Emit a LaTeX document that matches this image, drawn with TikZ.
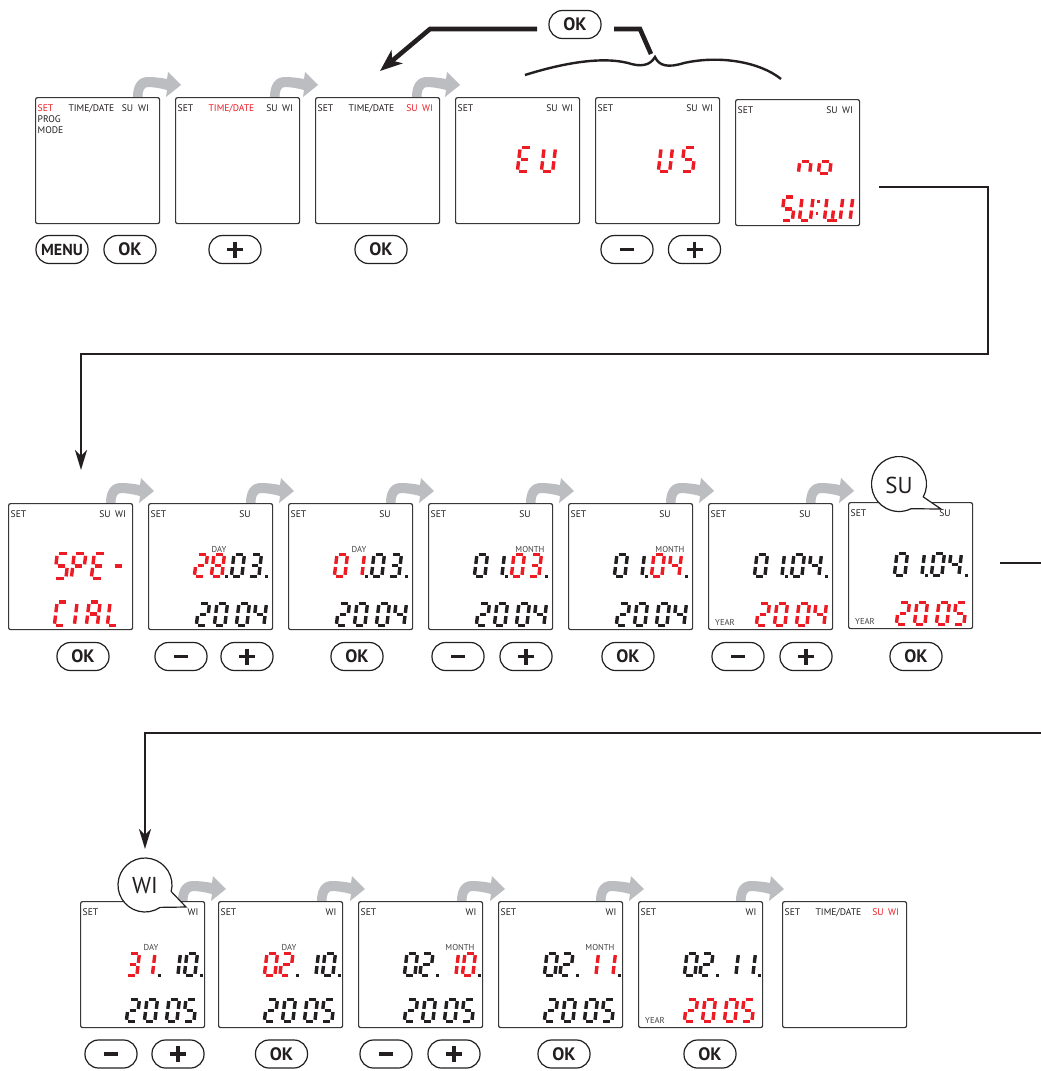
\documentclass[tikz,border=0pt]{standalone}
\usepackage{fontspec}
\setmainfont{PT Sans}
\usetikzlibrary{calc,arrows.meta}
\definecolor{lcdred}{RGB}{237,28,36}
\definecolor{ink}{RGB}{35,31,32}
\definecolor{greyarr}{RGB}{188,189,192}
\definecolor{frame}{RGB}{55,55,55}

% seven-segment geometry (local, y up)
\def\sega{(1.9,22.5) -- (8.6,22.5)}
\def\segb{(10.5,20.6) -- (10.5,12.85)}
\def\segc{(10.5,9.65) -- (10.5,1.9)}
\def\segd{(1.9,0) -- (8.6,0)}
\def\sege{(0,9.65) -- (0,1.9)}
\def\segf{(0,20.6) -- (0,12.85)}
\def\segg{(1.9,11.25) -- (8.6,11.25)}
\def\segm{(5.25,9.65) -- (5.25,1.9)}

\def\Dzero{a,b,c,d,e,f}
\def\Done{b,c}
\def\Dtwo{a,b,g,e,d}
\def\Dthree{a,b,g,c,d}
\def\Dfour{f,g,b,c}
\def\Dfive{a,f,g,c,d}
\def\Deight{a,b,c,d,e,f,g}
\def\SgE{a,f,g,e,d}
\def\SgU{b,c,d,e,f}
\def\SgS{a,f,g,c,d}
\def\SgP{a,b,f,g,e}
\def\SgDash{g}
\def\SgC{a,f,e,d}
\def\SgI{e,f}
\def\SgA{a,b,c,e,f,g}
\def\SgL{f,e,d}
\def\Sgn{c,e,g}
\def\Sgo{c,d,e,g}
\def\SgW{b,c,d,e,f,m}

\newcommand\dgt[5][]{%
  \begin{scope}[shift={(#2,#3)},x=1pt,y=1pt,xslant=0.12,#1,color=#4,line width=3.4pt]
    \foreach \sg in #5 {\expandafter\draw\csname seg\sg\endcsname;}
  \end{scope}}
\newcommand\lcdpt[2]{\fill[ink] (#1,#2+1.6) rectangle ++(3,-3);}

% date lines, row 2 and row 3
\newcommand\tlB[8]{\dgt{46.3}{73.7}{#2}{#1}\dgt{63.3}{73.7}{#4}{#3}\dgt{83.3}{73.7}{#6}{#5}\dgt{100.3}{73.7}{#8}{#7}\lcdpt{77}{73.7}\lcdpt{116.5}{73.7}}
\newcommand\blB[2]{\dgt{48.3}{122.7}{#2}{\Dtwo}\dgt{66.3}{122.7}{#2}{\Dzero}\dgt{88.3}{122.7}{#2}{\Dzero}\dgt{105.3}{122.7}{#2}{#1}}
\newcommand\tlC[8]{\dgt{46.3}{74.7}{#2}{#1}\dgt{61.8}{74.7}{#4}{#3}\dgt{87.3}{74.7}{#6}{#5}\dgt{104.3}{74.7}{#8}{#7}\lcdpt{77.5}{74.7}\lcdpt{120}{74.7}}
\newcommand\blC[2]{\dgt{46.3}{120.7}{#2}{\Dtwo}\dgt{64.3}{120.7}{#2}{\Dzero}\dgt{86.3}{120.7}{#2}{\Dzero}\dgt{103.3}{120.7}{#2}{#1}}

\tikzset{
  screen/.style={draw=frame,line width=1.2pt,rounded corners=2pt,minimum width=124pt,minimum height=126pt,inner sep=0pt,anchor=north west,fill=white},
  lbl/.style={font=\fontsize{9.6}{10}\selectfont,inner sep=0pt,text=ink,anchor=base},
  lbls/.style={font=\fontsize{8.6}{9}\selectfont,inner sep=0pt,text=ink!85,anchor=base},
  btn/.style={draw=ink,line width=1.2pt,rounded corners=13.5pt,minimum width=52pt,minimum height=28pt,inner sep=0pt,font=\fontsize{18}{18}\selectfont\bfseries,text=ink},
  sym/.style={draw=ink,line width=3.4pt},
  conn/.style={draw=ink,line width=2.6pt},
  heavy/.style={draw=ink,line width=4.6pt},
  bubble/.style={draw=ink,line width=1.2pt,fill=white},
  bubtxt/.style={font=\fontsize{23}{23}\selectfont,text=ink,inner sep=0pt},
  garrow/.pic={\fill[greyarr] (0,0) .. controls (0,-12) and (5,-20) .. (15,-20) .. controls (22,-20) and (29,-19) .. (34,-18) -- (35,-25) -- (48,-12) -- (33,0) -- (34,-7) .. controls (27,-9) and (19,-10) .. (15,-10) .. controls (11,-10) and (9.5,-6) .. (9.5,0) -- cycle;}
}

\newenvironment{scr}[3]{\node[screen] (#1) at (#2,#3) {};\def\cur{#1}\begin{scope}[shift={(#2,#3)}]}{\end{scope}}
\newcommand\Lset[1][ink]{\node[lbl,anchor=base west,text=#1] (\cur-set) at (2.5,14) {SET};}
\newcommand\Lsu[2][ink]{\node[lbl,text=#1] (\cur-su) at (#2,14) {SU};}
\newcommand\Lwi[2][ink]{\node[lbl,text=#1] (\cur-wi) at (#2,14) {WI};}
\newcommand\Ltd[1][ink]{\node[lbl,text=#1] (\cur-td) at (56.5,14) {TIME/DATE};}
\newcommand\Lday{\node[lbls] (\cur-day) at (71,49) {DAY};}
\newcommand\Lmonth{\node[lbls] (\cur-month) at (102,49) {MONTH};}
\newcommand\Lyear{\node[lbls] (\cur-year) at (17,122.5) {YEAR};}

\newcommand\okb[3]{\node[btn] (#1) at (#2,#3) {OK};}
\newcommand\plusb[3]{\node[btn] (#1) at (#2,#3) {};\draw[sym] ($(#1.center)+(-8,0)$) -- ($(#1.center)+(8,0)$) ($(#1.center)+(0,-8)$) -- ($(#1.center)+(0,8)$);}
\newcommand\minusb[3]{\node[btn] (#1) at (#2,#3) {};\draw[sym] ($(#1.center)+(-7,0)$) -- ($(#1.center)+(7,0)$);}

\begin{document}
\begin{tikzpicture}[x=1pt,y=-1pt]
\useasboundingbox (0,0) rectangle (1041,1071);
\fill[white] (0,0) rectangle (1041,1071);

% grey step arrows
\foreach \gx/\gy [count=\gi] in {133/97,270/97,412/97,106/503,246/503,386/503,526/503,666/503,806/503,178/901,317/901,457/901,596/901,736/901}
  {\pic (ga\gi) at (\gx,\gy) {garrow};}

% ---------------- row 1 ----------------
\begin{scr}{s11}{35}{97}
  \Lset[lcdred]\Ltd\Lsu{92.5}\Lwi{108.5}
  \node[lbl,anchor=base west] (\cur-prog) at (2.5,25) {PROG};
  \node[lbl,anchor=base west] (\cur-mode) at (2.5,36.5) {MODE};
\end{scr}
\begin{scr}{s12}{175}{97}
  \Lset\Ltd[lcdred]\Lsu{97}\Lwi{112.5}
\end{scr}
\begin{scr}{s13}{315}{97}
  \Lset\Ltd\Lsu[lcdred]{97}\Lwi[lcdred]{112.5}
\end{scr}
\begin{scr}{s14}{455}{97}
  \Lset\Lsu{97}\Lwi{112.5}
  \dgt[scale=1.08]{62.3}{74.7}{lcdred}{\SgE}
  \dgt[scale=1.08]{86.3}{74.7}{lcdred}{\SgU}
\end{scr}
\begin{scr}{s15}{595}{97}
  \Lset\Lsu{97}\Lwi{112.5}
  \dgt[scale=1.08]{63.3}{74.7}{lcdred}{\SgU}
  \dgt[scale=1.08]{86.3}{74.7}{lcdred}{\SgS}
\end{scr}
\begin{scr}{s16}{735}{99}
  \Lset\Lsu{97}\Lwi{112.5}
  \dgt[scale=1.08]{63.3}{74.7}{lcdred}{\Sgn}
  \dgt[scale=1.08]{83.3}{74.7}{lcdred}{\Sgo}
  \dgt[scale=1.05]{46.3}{121.7}{lcdred}{\SgS}
  \dgt[scale=1.05]{64.3}{121.7}{lcdred}{\SgU}
  \fill[lcdred] (82,104) rectangle ++(2.8,-2.8);
  \fill[lcdred] (80.5,116) rectangle ++(2.8,-2.8);
  \dgt[xscale=1.5,yscale=1.05]{89.3}{121.7}{lcdred}{\SgW}
  \dgt[scale=1.05]{104}{121.7}{lcdred}{\Done}
\end{scr}

\node[btn,font=\fontsize{16}{16}\selectfont\bfseries] (b11) at (62,249.5) {MENU};
\okb{b12}{130}{249.5}
\plusb{b13}{235}{249.5}
\okb{b14}{381}{249.5}
\minusb{b15}{627}{249.5}
\plusb{b16}{694.5}{249.5}

% top OK with brace
\okb{okT}{575}{24.5}
\coordinate (t1) at (537,29);
\coordinate (t2) at (430,29);
\coordinate (t3) at (380,71);
\draw[heavy,-{Stealth[length=22pt,width=17pt,inset=6pt]}] (t1) -- (t2) -- (t3);
\coordinate (t4) at (614,29);
\coordinate (t5) at (640,29);
\coordinate (t6) at (651,54);
\draw[heavy] (t4) -- (t5) -- (t6);
\draw[ink,line width=2.4pt] (525,75) .. controls (560,64) and (600,56) .. (628,63) .. controls (640,67) and (650,66) .. (655,57) .. controls (659,66) and (668,68) .. (684,63) .. controls (720,55) and (760,62) .. (781,79);

% connector row 1 -> row 2
\coordinate (k1a) at (879,187);
\coordinate (k1b) at (988,187);
\coordinate (k1c) at (988,354);
\coordinate (k1d) at (81,354);
\coordinate (k1e) at (81,470);
\draw[conn,-{Stealth[length=20pt,width=12pt,inset=6pt]}] (k1a) -- (k1b) -- (k1c) -- (k1d) -- (k1e);

% ---------------- row 2 ----------------
\begin{scr}{s21}{8}{503}
  \Lset\Lsu{97}\Lwi{112.5}
  \dgt[scale=1.1]{46.3}{75.5}{lcdred}{\SgS}
  \dgt[scale=1.1]{63.3}{75.5}{lcdred}{\SgP}
  \dgt[scale=1.1]{83.3}{75.5}{lcdred}{\SgE}
  \dgt[scale=1.1]{103.3}{75.5}{lcdred}{\SgDash}
  \dgt[scale=1.05]{46.3}{122.7}{lcdred}{\SgC}
  \dgt[scale=1.05]{66.3}{122.7}{lcdred}{\SgI}
  \dgt[scale=1.05]{78.3}{122.7}{lcdred}{\SgA}
  \dgt[scale=1.05]{99.3}{122.7}{lcdred}{\SgL}
\end{scr}
\begin{scr}{s22}{148}{503}
  \Lset\Lsu{97}\Lday
  \tlB{\Dtwo}{lcdred}{\Deight}{lcdred}{\Dzero}{ink}{\Dthree}{ink}
  \blB{\Dfour}{ink}
\end{scr}
\begin{scr}{s23}{288}{503}
  \Lset\Lsu{97}\Lday
  \tlB{\Dzero}{lcdred}{\Done}{lcdred}{\Dzero}{ink}{\Dthree}{ink}
  \blB{\Dfour}{ink}
\end{scr}
\begin{scr}{s24}{428}{503}
  \Lset\Lsu{97}\Lmonth
  \tlB{\Dzero}{ink}{\Done}{ink}{\Dzero}{lcdred}{\Dthree}{lcdred}
  \blB{\Dfour}{ink}
\end{scr}
\begin{scr}{s25}{568}{503}
  \Lset\Lsu{97}\Lmonth
  \tlB{\Dzero}{ink}{\Done}{ink}{\Dzero}{lcdred}{\Dfour}{lcdred}
  \blB{\Dfour}{ink}
\end{scr}
\begin{scr}{s26}{708}{503}
  \Lset\Lsu{97}\Lyear
  \tlB{\Dzero}{ink}{\Done}{ink}{\Dzero}{ink}{\Dfour}{ink}
  \blB{\Dfour}{lcdred}
\end{scr}
\begin{scr}{s27}{848}{502}
  \Lset\Lsu{97}\Lyear
  \tlB{\Dzero}{ink}{\Done}{ink}{\Dzero}{ink}{\Dfour}{ink}
  \blB{\Dfive}{lcdred}
\end{scr}

\okb{b21}{83}{656.5}
\minusb{b22}{181}{656.5}
\plusb{b23}{247}{656.5}
\okb{b24}{357}{656.5}
\minusb{b25}{458}{656.5}
\plusb{b26}{526}{656.5}
\okb{b27}{628}{656.5}
\minusb{b28}{738}{656.5}
\plusb{b29}{806}{656.5}
\okb{b2x}{916}{656.5}

% SU bubble
\coordinate (subc) at (899,484);
\coordinate (subt) at (941,509);
\draw[bubble] (subt) -- ($(subc)+(28:27.5)$) arc[start angle=28,end angle=-296,radius=27.5] -- cycle;
\node[bubtxt] (subtxt) at (899,485) {SU};

% connectors row 2 -> row 3
\coordinate (k2a) at (1000,563);
\coordinate (k2b) at (1041,563);
\draw[conn] (k2a) -- (k2b);
\coordinate (k3a) at (1041,733);
\coordinate (k3b) at (145,733);
\coordinate (k3c) at (145,849);
\draw[conn,-{Stealth[length=20pt,width=12pt,inset=6pt]}] (k3a) -- (k3b) -- (k3c);

% ---------------- row 3 ----------------
\begin{scr}{s31}{80}{901}
  \Lset\Lwi{113}\Lday
  \tlC{\Dthree}{lcdred}{\Done}{lcdred}{\Done}{ink}{\Dzero}{ink}
  \blC{\Dfive}{ink}
\end{scr}
\begin{scr}{s32}{218}{901}
  \Lset\Lwi{113}\Lday
  \tlC{\Dzero}{lcdred}{\Dtwo}{lcdred}{\Done}{ink}{\Dzero}{ink}
  \blC{\Dfive}{ink}
\end{scr}
\begin{scr}{s33}{358}{901}
  \Lset\Lwi{113}\Lmonth
  \tlC{\Dzero}{ink}{\Dtwo}{ink}{\Done}{lcdred}{\Dzero}{lcdred}
  \blC{\Dfive}{ink}
\end{scr}
\begin{scr}{s34}{498}{901}
  \Lset\Lwi{113}\Lmonth
  \tlC{\Dzero}{ink}{\Dtwo}{ink}{\Done}{lcdred}{\Done}{lcdred}
  \blC{\Dfive}{ink}
\end{scr}
\begin{scr}{s35}{638}{901}
  \Lset\Lwi{113}\Lyear
  \tlC{\Dzero}{ink}{\Dtwo}{ink}{\Done}{ink}{\Done}{ink}
  \blC{\Dfive}{lcdred}
\end{scr}
\begin{scr}{s36}{782}{901}
  \Lset\Ltd\Lsu[lcdred]{96}\Lwi[lcdred]{111.5}
\end{scr}

\minusb{b31}{111}{1054}
\plusb{b32}{178}{1054}
\okb{b33}{281.5}{1054}
\minusb{b34}{386}{1054}
\plusb{b35}{454}{1054}
\okb{b36}{564}{1054}
\okb{b37}{710}{1054}

% WI bubble
\coordinate (wic) at (145,885);
\coordinate (wit) at (186,907);
\draw[bubble] (wit) -- ($(wic)+(14:27)$) arc[start angle=14,end angle=-304,radius=27] -- cycle;
\node[bubtxt] (witxt) at (145,886) {WI};
\end{tikzpicture}
\end{document}
